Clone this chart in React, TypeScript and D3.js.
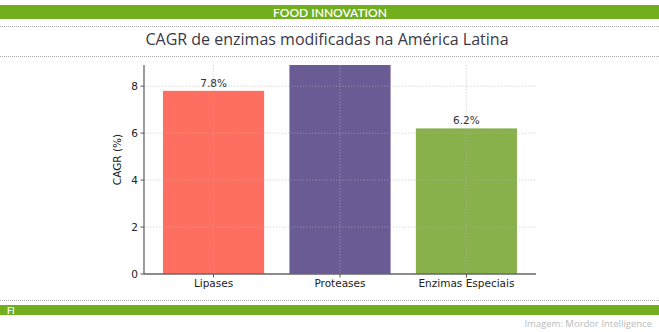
import React from "react";
import * as d3 from "d3";

const categories = ["Lipases", "Proteases", "Enzimas Especiais"];
const values = [7.8, 9.0, 6.2];
const labels = ["7.8%", "", "6.2%"];
const colors = ["#FF6F61", "#6B5B95", "#88B04B"];
const yTicks = [0, 2, 4, 6, 8];

const W = 659;
const H = 332;
const plot = { left: 144, right: 536, top: 65, bottom: 274 };

export default function App() {
  const x = d3
    .scaleBand<string>()
    .domain(categories)
    .range([plot.left, plot.right])
    .paddingInner(0.2)
    .paddingOuter(0.15);
  const y = d3.scaleLinear().domain([0, 8.9]).range([plot.bottom, plot.top]);
  const font = "'DejaVu Sans', sans-serif";
  const dots = (yy: number) => (
    <line x1={0} x2={W} y1={yy} y2={yy} stroke="#aaa" strokeWidth={1} strokeDasharray="1,1" />
  );
  return (
    <svg width={W} height={H} style={{ position: "absolute", left: 0, top: 0, background: "#fff" }}>
      <rect x={0} y={0} width={W} height={H} fill="#fff" />
      <rect x={0} y={5} width={W} height={14} fill="#71AF1F" />
      <text x={330} y={16.5} textAnchor="middle" fill="#fff" fontFamily="Lato, 'Open Sans', sans-serif" fontSize={12} fontWeight={600}>
        FOOD INNOVATION
      </text>
      {dots(26.5)}
      <text x={327} y={44.5} textAnchor="middle" fill="#3a3a48" fontFamily="'Open Sans', sans-serif" fontSize={16}>
        CAGR de enzimas modificadas na América Latina
      </text>
      {dots(56.5)}

      <defs>
        <clipPath id="plotclip">
          <rect x={plot.left} y={plot.top} width={plot.right - plot.left} height={plot.bottom - plot.top} />
        </clipPath>
      </defs>

      <g clipPath="url(#plotclip)">
        {categories.map((c, i) => (
          <rect
            key={c}
            x={x(c)!}
            y={y(values[i])}
            width={x.bandwidth()}
            height={plot.bottom - y(values[i])}
            fill={colors[i]}
          />
        ))}
        {yTicks.map((t) => (
          <line key={t} x1={plot.left} x2={plot.right} y1={y(t)} y2={y(t)} stroke="#b0b0b0" strokeOpacity={0.6} strokeDasharray="1.5,1.5" strokeWidth={0.8} />
        ))}
        {categories.map((c) => (
          <line key={c} x1={x(c)! + x.bandwidth() / 2} x2={x(c)! + x.bandwidth() / 2} y1={plot.top} y2={plot.bottom} stroke="#b0b0b0" strokeOpacity={0.6} strokeDasharray="1.5,1.5" strokeWidth={0.8} />
        ))}
      </g>

      {categories.map((c, i) =>
        labels[i] ? (
          <text key={c} x={x(c)! + x.bandwidth() / 2} y={y(values[i]) - 4} textAnchor="middle" fontFamily={font} fontSize={10.5} fill="#333">
            {labels[i]}
          </text>
        ) : null
      )}

      <line x1={plot.left} x2={plot.left} y1={plot.top} y2={plot.bottom} stroke="#666" strokeWidth={1.3} />
      <line x1={plot.left} x2={plot.right} y1={plot.bottom} y2={plot.bottom} stroke="#666" strokeWidth={1.6} />
      {yTicks.map((t) => (
        <g key={t}>
          <line x1={plot.left - 3.5} x2={plot.left} y1={y(t)} y2={y(t)} stroke="#555" />
          <text x={plot.left - 6} y={y(t) + 3.8} textAnchor="end" fontFamily={font} fontSize={10.5} fill="#222">
            {t}
          </text>
        </g>
      ))}
      {categories.map((c) => (
        <g key={c}>
          <line x1={x(c)! + x.bandwidth() / 2} x2={x(c)! + x.bandwidth() / 2} y1={plot.bottom} y2={plot.bottom + 3.5} stroke="#555" />
          <text x={x(c)! + x.bandwidth() / 2} y={plot.bottom + 12.5} textAnchor="middle" fontFamily={font} fontSize={10.5} fill="#222">
            {c}
          </text>
        </g>
      ))}
      <text transform={`translate(121,${(plot.top + plot.bottom) / 2 - 10}) rotate(-90)`} textAnchor="middle" fontFamily={font} fontSize={10.5} fill="#222">
        CAGR (%)
      </text>

      {dots(300.5)}
      <rect x={0} y={305} width={W} height={10} fill="#71AF1F" />
      <text x={7} y={314} fill="#fff" fontFamily="Lato, sans-serif" fontSize={9} fontWeight={600}>
        FI
      </text>
      <text x={652} y={327} textAnchor="end" fill="#bbb" fontFamily="'Open Sans', sans-serif" fontSize={9.5}>
        Imagem: Mordor Intelligence
      </text>
    </svg>
  );
}
